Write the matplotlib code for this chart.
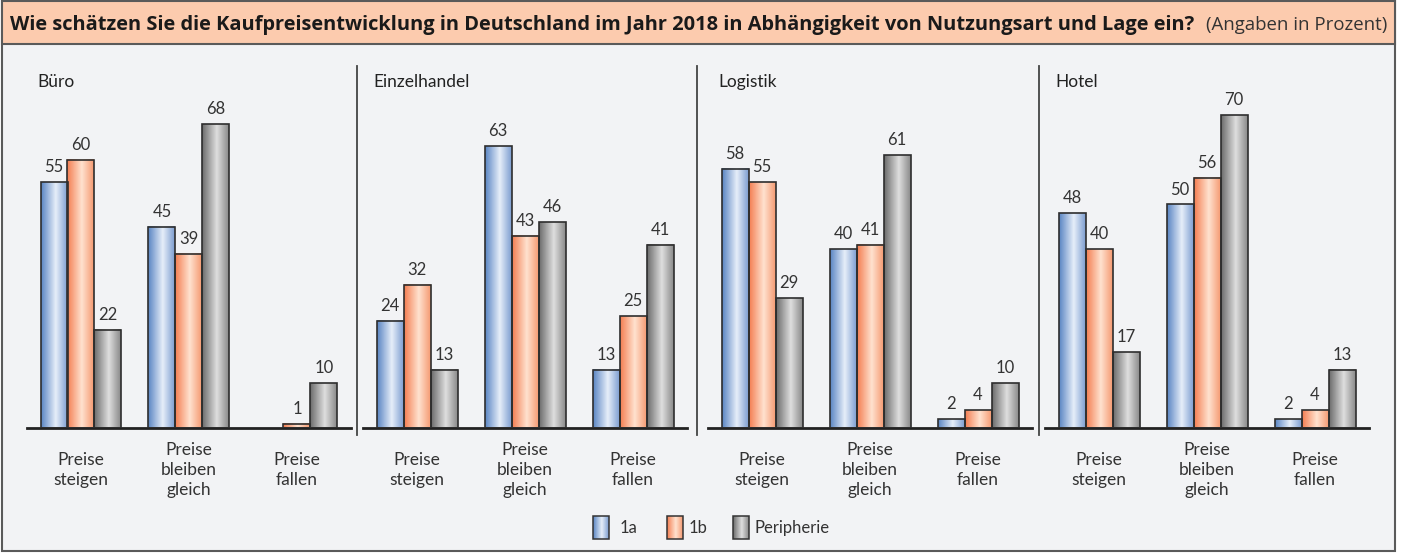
import numpy as np
import matplotlib
matplotlib.use("Agg")
import matplotlib.pyplot as plt
from matplotlib.colors import LinearSegmentedColormap
from matplotlib.patches import Rectangle

plt.rcParams['font.family'] = ['Lato', 'DejaVu Sans']

# data
panels = ["Büro", "Einzelhandel", "Logistik", "Hotel"]
categories = ["Preise\nsteigen", "Preise\nbleiben\ngleich", "Preise\nfallen"]
series = ["1a", "1b", "Peripherie"]
v_1a = [[55, 45, 0], [24, 63, 13], [58, 40, 2], [48, 50, 2]]
v_1b = [[60, 39, 1], [32, 43, 25], [55, 41, 4], [40, 56, 4]]
v_peri = [[22, 68, 10], [13, 46, 41], [29, 61, 10], [17, 70, 13]]
title_bold = "Wie schätzen Sie die Kaufpreisentwicklung in Deutschland im Jahr 2018 in Abhängigkeit von Nutzungsart und Lage ein?"
title_note = "(Angaben in Prozent)"

# gradient stops per series: dark edge, highlight, right edge
grads = [
    ["#5a85c3", "#e6eef9", "#7c9dd0"],
    ["#f47e52", "#ffe2cf", "#f59a72"],
    ["#6c6c6c", "#dedede", "#8a8a8a"],
]
cmaps = [LinearSegmentedColormap.from_list("g%d" % i, list(zip([0, 0.55, 1], g)))
         for i, g in enumerate(grads)]
grad_img = np.linspace(0, 1, 64).reshape(1, -1)

W, H = 1402, 553
fig = plt.figure(figsize=(W / 100, H / 100), dpi=100)
fig.patch.set_facecolor("white")

# background / frame drawn in pixel coordinates
bg = fig.add_axes([0, 0, 1, 1], zorder=0)
bg.set_xlim(0, W)
bg.set_ylim(H, 0)
bg.axis("off")
bg.add_patch(Rectangle((2, 1), 1393, 550, facecolor="#f2f3f5", edgecolor="#5a5a5a", lw=1.5))
bg.add_patch(Rectangle((2, 1), 1393, 43, facecolor="#fccbae", edgecolor="#5a5a5a", lw=1.5))
for x in [357, 697, 1039]:
    bg.plot([x, x], [66, 435], color="#444444", lw=1.3)

# title, fitted to the width it takes in the original
t1 = bg.text(10, 30, title_bold, fontsize=14, fontweight="bold", color="#1a1a1a",
             va="baseline", ha="left", family="Open Sans")
fig.canvas.draw()
bb = t1.get_window_extent()
t1.set_fontsize(14 * 1193 / bb.width)
t2 = bg.text(1206, 30, title_note, fontsize=12, color="#333333", va="baseline",
             ha="left", family="Open Sans")
fig.canvas.draw()
bb = t2.get_window_extent()
t2.set_fontsize(12 * 181 / bb.width)

# legend
leg_x = [593, 667, 733]
leg_tx = [620, 689, 754]
for i, s in enumerate(series):
    bg.imshow(grad_img, cmap=cmaps[i], aspect="auto",
              extent=(leg_x[i], leg_x[i] + 16, 539, 516), zorder=2)
    bg.add_patch(Rectangle((leg_x[i], 516), 16, 23, facecolor="none",
                           edgecolor="#333333", lw=1.1, zorder=3))
    bg.text(leg_tx[i], 528, s, fontsize=12, color="#333333", va="center", ha="left")
bg.set_xlim(0, W)
bg.set_ylim(H, 0)

# panels
ax_left = [27, 363, 708, 1045]
ax_w, base_px, scale = 324, 428, 4.47
ymax = 75
for p, name in enumerate(panels):
    ax = fig.add_axes([ax_left[p] / W, (H - base_px) / H, ax_w / W, ymax * scale / H], zorder=2)
    ax.patch.set_alpha(0)
    x = np.arange(len(categories))
    for i, vals in enumerate([v_1a[p], v_1b[p], v_peri[p]]):
        bars = ax.bar(x + (i - 1) * 0.25, vals, 0.25, facecolor="none",
                      edgecolor="#2e2e2e", lw=1.2, zorder=3)
        for b, v in zip(bars, vals):
            if v <= 0:
                b.set_visible(False)
                continue
            ax.imshow(grad_img, cmap=cmaps[i], aspect="auto", zorder=2,
                      extent=(b.get_x(), b.get_x() + b.get_width(), 0, b.get_height()))
            ax.annotate(str(v), (b.get_x() + b.get_width() / 2, b.get_height()),
                        xytext=(0, 5), textcoords="offset points", ha="center",
                        va="bottom", fontsize=12, color="#333333")
    ax.set_xlim(-0.5, 2.5)
    ax.set_ylim(0, ymax)
    ax.set_xticks(x, categories)
    ax.tick_params(axis="x", length=0, pad=30, labelsize=12.5, labelcolor="#333333")
    for lbl in ax.get_xticklabels():
        lbl.set_va("center")
        lbl.set_linespacing(1.3)
    ax.set_yticks([])
    for s in ["top", "left", "right"]:
        ax.spines[s].set_visible(False)
    ax.spines["bottom"].set_linewidth(2)
    ax.spines["bottom"].set_color("#222222")
    bg.text(ax_left[p] + 10, 82, name, fontsize=12.5, color="#222222", va="center", ha="left")

fig.savefig("out.png", dpi=100)
